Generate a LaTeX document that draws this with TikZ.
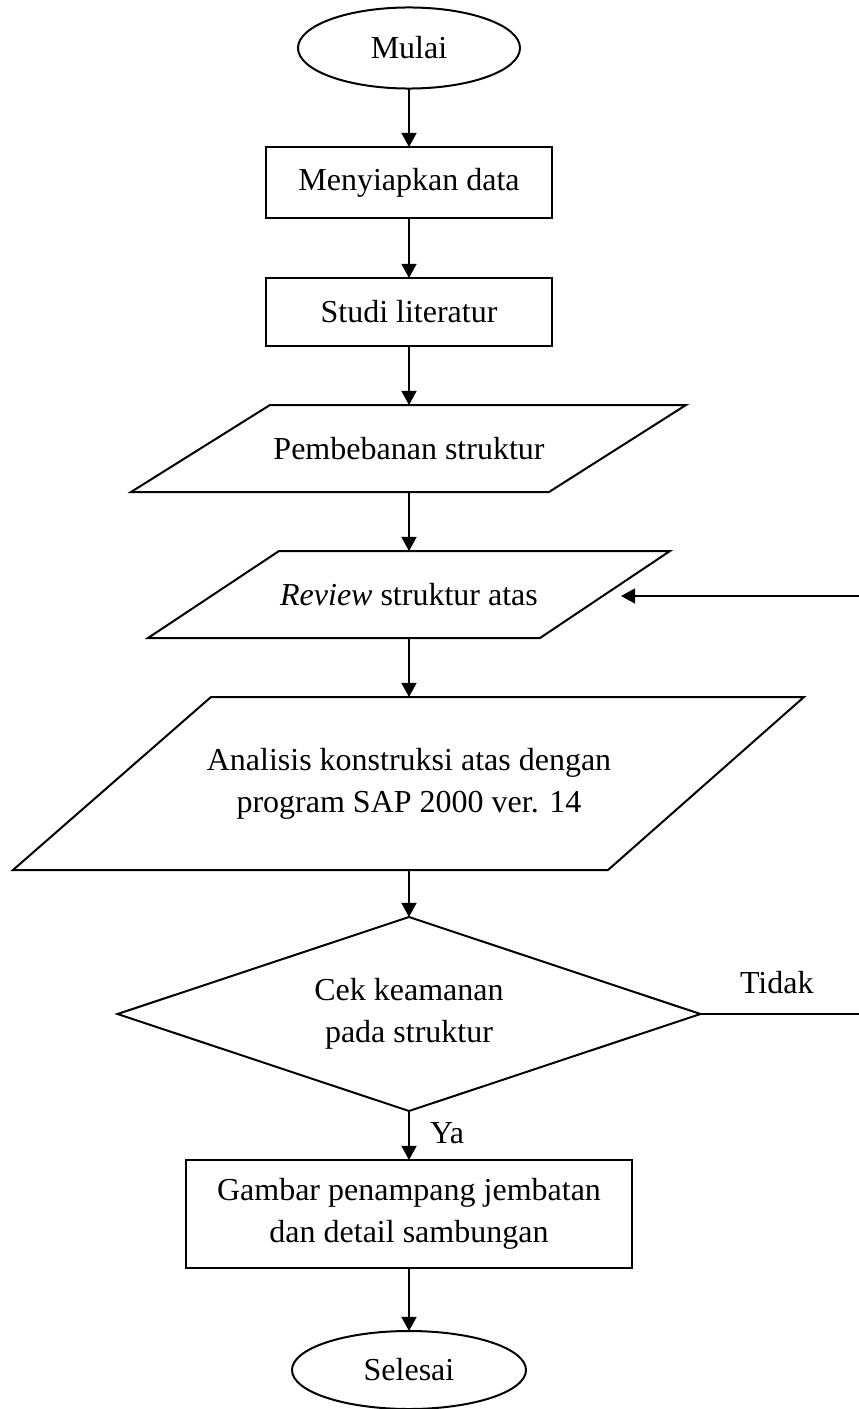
\documentclass[tikz,border=0pt]{standalone}
\usepackage{fontspec}
\setmainfont{Liberation Serif}
\usetikzlibrary{shapes.geometric,arrows.meta}

\begin{document}
\begin{tikzpicture}[x=0.375pt,y=-0.375pt,line width=0.75pt,
    >={Triangle[length=5.3pt,width=5.6pt]},
    every node/.style={font=\fontsize{12}{15.75}\selectfont,inner sep=0pt,outer sep=0pt},
    terminal/.style={draw,ellipse},
    proses/.style={draw,rectangle,align=center},
    masukan/.style={rectangle,align=center},
    keputusan/.style={draw,diamond,aspect=3,align=center}]
        \useasboundingbox (0,0) rectangle (858,1409);

        % bentuk jajaran genjang
        \draw(131,492)--(270,405)--(686,405)--(549,492)--cycle;
        \draw(148,638)--(279,551)--(670,551)--(540,638)--cycle;
        \draw(13,870)--(211,697)--(804,697)--(608,870)--cycle;

        \node[terminal,minimum width=83.25pt,minimum height=30.4pt](mulai)at(409,48){Mulai};
        \node[proses,minimum width=107.6pt,minimum height=26.6pt](siap)at(409,182.5){Menyiapkan data};
        \node[proses,minimum width=107.6pt,minimum height=25.5pt](studi)at(409,312){Studi literatur};
        \node[masukan,minimum height=32.6pt](beban)at(409,448.5){Pembebanan struktur};
        \node[masukan,minimum height=32.6pt](review)at(409,594.5){\textit{Review} struktur atas};
        \node[masukan,minimum height=64.9pt](analisis)at(409,783.5){Analisis konstruksi atas dengan\\program SAP 2000 ver. 14};
        \node[keputusan,minimum width=218.6pt,minimum height=72.75pt](cek)at(409,1014){Cek keamanan\\pada struktur};
        \node[proses,minimum width=167.25pt,minimum height=40.5pt](gambar)at(409,1214){Gambar penampang jembatan\\dan detail sambungan};
        \node[terminal,minimum width=87.75pt,minimum height=29.25pt](selesai)at(409,1370){Selesai};

        \node[anchor=base west](ya)at(430,1143){Ya};
        \node[anchor=base west](tidak)at(740,993){Tidak};

        \coordinate(kanan)at(860,1014);
        \coordinate(balik)at(860,596);
        \coordinate(ujung)at(621,596);

        \draw[->](mulai)--(siap);
        \draw[->](siap)--(studi);
        \draw[->](studi)--(beban);
        \draw[->](beban)--(review);
        \draw[->](review)--(analisis);
        \draw[->](analisis)--(cek);
        \draw[->](cek)--(gambar);
        \draw[->](gambar)--(selesai);
        \draw(cek.east)--(kanan);
        \draw[->](balik)--(ujung);
    \end{tikzpicture}
\end{document}
